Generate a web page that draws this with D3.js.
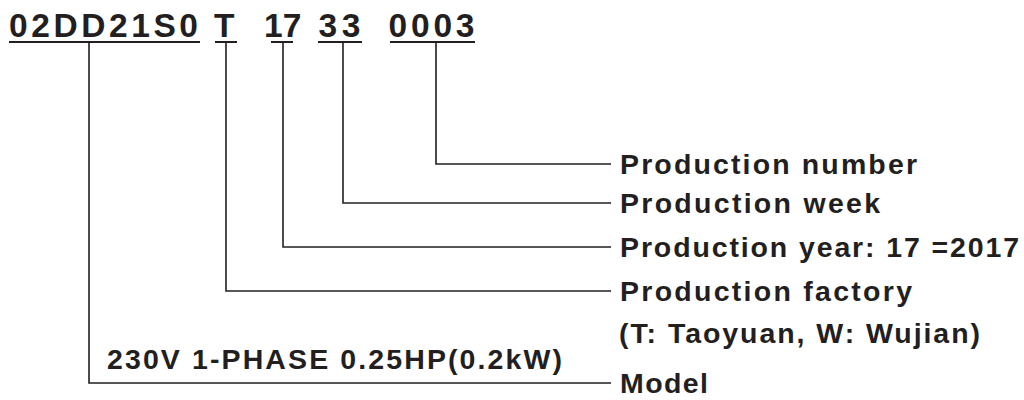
<!DOCTYPE html>
<html>
<head>
<meta charset="utf-8">
<script src="https://cdn.jsdelivr.net/npm/d3@7"></script>
<style>
  html, body { margin: 0; padding: 0; background: #ffffff; }
  svg { display: block; }
  text { font-family: "Liberation Sans", Arial, sans-serif; font-weight: bold; fill: #231f20; }
</style>
</head>
<body>
<svg id="chart" width="1024" height="400"></svg>
<script>
// ---- data ----
const codeSegments = ["02DD21S0", "T", "17", "33", "0003"];
const meanings = ["Model", "Production factory", "Production year: 17 =2017", "Production week", "Production number"];
const factoryNote = "(T: Taoyuan, W: Wujian)";
const modelNote = "230V 1-PHASE 0.25HP(0.2kW)";

// ---- layout (positions kept out of data) ----
const ink = "#231f20";
const svg = d3.select("#chart");

const segX = [9, 214, 264, 318.5, 388.5];
const segLen = [189, null, null, 42, 86];
const segLine = [[9, 200], [215, 237], [271, 293], [318, 362], [390, 475]];
const leaderX = [89, 226, 283, 343, 436];
const rowY = d3.scaleOrdinal().domain(codeSegments).range([383, 291, 247, 203, 164]);

const headerBase = 37, underlineY = 42;
const lineEnd = 611, labelX = 620;

// header text
svg.append("g").selectAll("text").data(codeSegments).join("text")
  .attr("x", (d, i) => segX[i])
  .attr("y", headerBase)
  .attr("font-size", 33.5)
  .each(function (d, i) {
    if (segLen[i]) d3.select(this).attr("textLength", segLen[i]).attr("lengthAdjust", "spacing");
  })
  .text(d => d);

// underlines
svg.append("g").selectAll("line").data(codeSegments).join("line")
  .attr("x1", (d, i) => segLine[i][0]).attr("x2", (d, i) => segLine[i][1])
  .attr("y1", underlineY).attr("y2", underlineY)
  .attr("stroke", ink).attr("stroke-width", 2);

// leaders
svg.append("g").selectAll("path").data(codeSegments).join("path")
  .attr("d", (d, i) => d3.line()([[leaderX[i], underlineY], [leaderX[i], rowY(d)], [lineEnd, rowY(d)]]))
  .attr("fill", "none").attr("stroke", ink).attr("stroke-width", 1.6);

// meaning labels
const labelEnds = [708, 912, 1019, 880, 917];
svg.append("g").selectAll("text").data(meanings).join("text")
  .attr("x", labelX)
  .attr("y", (d, i) => rowY(codeSegments[i]) + 9.5)
  .attr("font-size", 28.5)
  .attr("textLength", (d, i) => labelEnds[i] - labelX)
  .attr("lengthAdjust", "spacing")
  .text(d => d);

// notes
svg.append("text")
  .attr("x", 619).attr("y", 343)
  .attr("font-size", 28.5)
  .attr("textLength", 980 - 619).attr("lengthAdjust", "spacing")
  .text(factoryNote);

svg.append("text")
  .attr("x", 107).attr("y", 369)
  .attr("font-size", 28.5)
  .attr("textLength", 562 - 107).attr("lengthAdjust", "spacing")
  .text(modelNote);
</script>
</body>
</html>
